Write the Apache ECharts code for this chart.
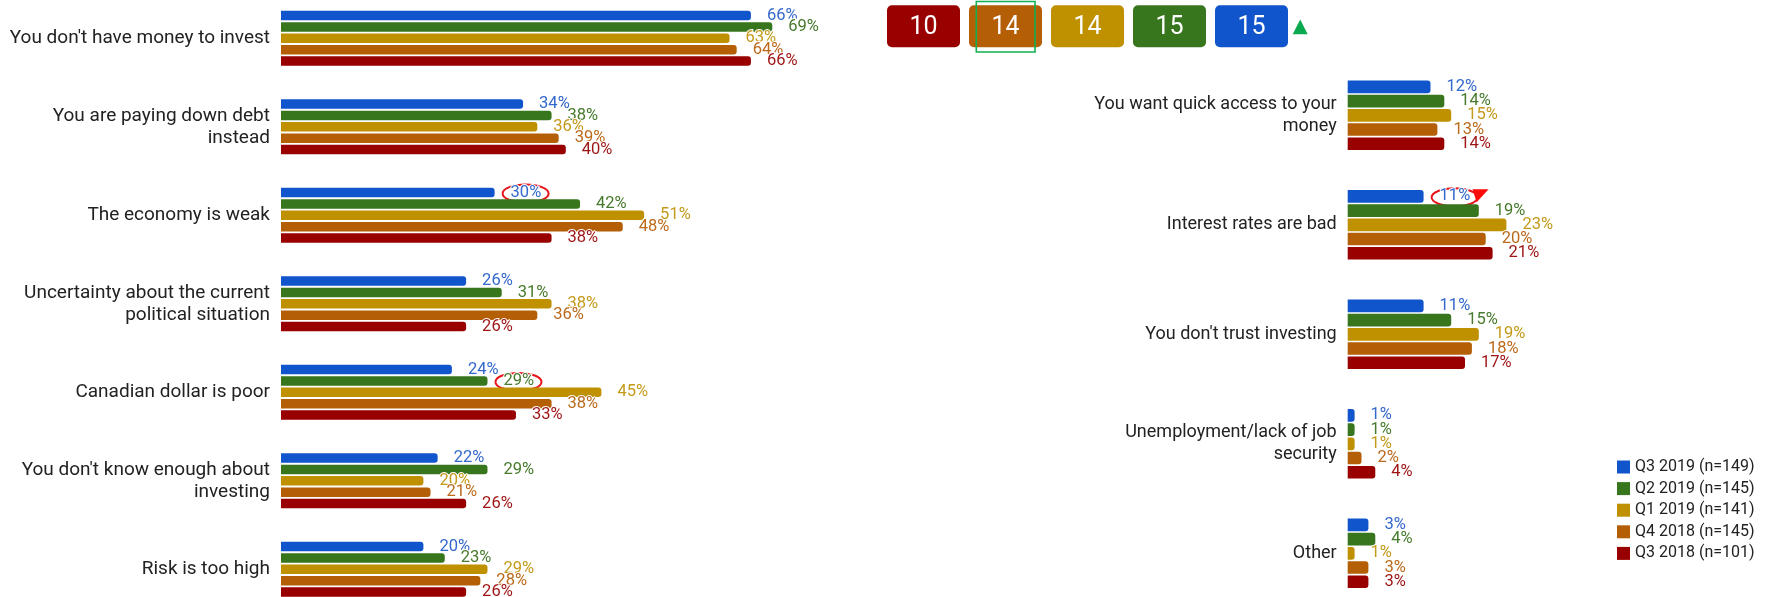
<!DOCTYPE html>
<html>
<head>
<meta charset="utf-8">
<script src="https://cdn.jsdelivr.net/npm/echarts@6/dist/echarts.min.js"></script>
<style>
  html, body { margin: 0; padding: 0; background: #ffffff; }
  #chart { width: 1771px; height: 597px; }
</style>
</head>
<body>
<div id="chart"></div>
<script>
// Survey waves (legend order) and their colours
const seriesNames = ['Q3 2019 (n=149)', 'Q2 2019 (n=145)', 'Q1 2019 (n=141)', 'Q4 2018 (n=145)', 'Q3 2018 (n=101)'];
const seriesColors = ['#1155cc', '#38761d', '#bf9000', '#b45f06', '#990000'];
const labelColors = ['#3368cc', '#477a2c', '#c39a1a', '#bb6a1c', '#9e1414'];

// Reasons, first panel
const leftCategories = [
  "You don't have money to invest",
  'You are paying down debt\ninstead',
  'The economy is weak',
  'Uncertainty about the current\npolitical situation',
  'Canadian dollar is poor',
  "You don't know enough about\ninvesting",
  'Risk is too high'
];
const leftQ3_2019 = [66, 34, 30, 26, 24, 22, 20];
const leftQ2_2019 = [69, 38, 42, 31, 29, 29, 23];
const leftQ1_2019 = [63, 36, 51, 38, 45, 20, 29];
const leftQ4_2018 = [64, 39, 48, 36, 38, 21, 28];
const leftQ3_2018 = [66, 40, 38, 26, 33, 26, 26];

// Reasons, second panel
const rightCategories = [
  'You want quick access to your\nmoney',
  'Interest rates are bad',
  "You don't trust investing",
  'Unemployment/lack of job\nsecurity',
  'Other'
];
const rightQ3_2019 = [12, 11, 11, 1, 3];
const rightQ2_2019 = [14, 19, 15, 1, 4];
const rightQ1_2019 = [15, 23, 19, 1, 1];
const rightQ4_2018 = [13, 20, 18, 2, 3];
const rightQ3_2018 = [14, 21, 17, 4, 3];

// Score badges, oldest wave first
const scoreValues = [10, 14, 14, 15, 15];
const scoreColors = ['#990000', '#b45f06', '#bf9000', '#38761d', '#1155cc'];

const leftValues = [leftQ3_2019, leftQ2_2019, leftQ1_2019, leftQ4_2018, leftQ3_2018];
const rightValues = [rightQ3_2019, rightQ2_2019, rightQ1_2019, rightQ4_2018, rightQ3_2018];

const FONT = 'Roboto';
const LABEL_SIZE = 16.5;
const LABEL_DIST = 16;
const LEFT_BAR = 9.5, LEFT_GAP = 0.2;
const RIGHT_BAR = 12.7, RIGHT_GAP = 0.12;

function barSeries(values, i, gridIdx, barWidth, gap) {
  return {
    type: 'bar',
    name: seriesNames[i],
    xAxisIndex: gridIdx,
    yAxisIndex: gridIdx,
    data: values,
    barWidth: barWidth,
    barGap: (gap * 100) + '%',
    itemStyle: { color: seriesColors[i], borderRadius: [0, 3, 3, 0] },
    label: {
      show: true,
      position: 'right',
      distance: LABEL_DIST,
      formatter: '{c}%',
      color: labelColors[i],
      fontSize: LABEL_SIZE,
      fontFamily: FONT,
      textBorderColor: '#ffffff',
      textBorderWidth: 2
    },
    emphasis: { disabled: true },
    animation: false
  };
}

function categoryAxis(gridIdx, data, fontSize) {
  return {
    gridIndex: gridIdx,
    type: 'category',
    data: data,
    inverse: true,
    boundaryGap: false,
    axisLine: { show: false },
    axisTick: { show: false },
    splitLine: { show: false },
    axisLabel: {
      margin: 11,
      fontSize: fontSize,
      lineHeight: 22,
      color: '#222222',
      fontFamily: FONT,
      align: 'right'
    }
  };
}

const series = [];
leftValues.forEach((v, i) => series.push(barSeries(v, i, 0, LEFT_BAR, LEFT_GAP)));
rightValues.forEach((v, i) => series.push(barSeries(v, i, 1, RIGHT_BAR, RIGHT_GAP)));

const chart = echarts.init(document.getElementById('chart'), null, { renderer: 'canvas' });

chart.setOption({
  backgroundColor: '#ffffff',
  animation: false,
  textStyle: { fontFamily: FONT },
  grid: [
    { left: 281, top: 38.3, width: 712, height: 531 },
    { left: 1347.7, top: 115.3, width: 414, height: 438 }
  ],
  xAxis: [
    { gridIndex: 0, type: 'value', min: 0, max: 100, show: false },
    { gridIndex: 1, type: 'value', min: 0, max: 60, show: false }
  ],
  yAxis: [
    categoryAxis(0, leftCategories, 19),
    categoryAxis(1, rightCategories, 18)
  ],
  legend: {
    data: seriesNames,
    orient: 'vertical',
    left: 1617,
    top: 459,
    padding: 0,
    icon: 'rect',
    itemWidth: 13,
    itemHeight: 13,
    itemGap: 5.6,
    textStyle: { fontSize: 16, lineHeight: 16, color: '#222222', fontFamily: FONT },
    selectedMode: false
  },
  series: series
});

// Annotations: score badges, trend markers and circled labels
const graphics = [];
const badgeX0 = 887, badgeStep = 82, badgeW = 73, badgeH = 42, badgeY = 5.3;
scoreValues.forEach((v, i) => {
  const x = badgeX0 + i * badgeStep;
  graphics.push({
    type: 'rect',
    shape: { x: x, y: badgeY, width: badgeW, height: badgeH, r: 5 },
    style: { fill: scoreColors[i] },
    silent: true
  });
  graphics.push({
    type: 'text',
    x: x + badgeW / 2,
    y: badgeY + badgeH / 2 + 1,
    style: {
      text: String(v),
      fill: '#ffffff',
      font: '25px Roboto',
      align: 'center',
      verticalAlign: 'middle'
    },
    silent: true
  });
});
// highlight frame on the second badge
graphics.push({
  type: 'rect',
  shape: { x: 976.3, y: 1.5, width: 58.7, height: 50.5 },
  style: { fill: 'none', stroke: '#12b050', lineWidth: 1.6 },
  silent: true
});
// upward trend marker after the last badge
graphics.push({
  type: 'polygon',
  shape: { points: [[1300.2, 19.5], [1292.7, 34.3], [1307.7, 34.3]] },
  style: { fill: '#0aa84f' },
  silent: true
});

// Labels circled in red: [grid, series, category index]
const circled = [
  [0, 0, 2],
  [0, 1, 4],
  [1, 0, 1]
];
circled.forEach(([g, s, idx]) => {
  const values = g === 0 ? leftValues : rightValues;
  const bw = g === 0 ? LEFT_BAR : RIGHT_BAR;
  const gap = g === 0 ? LEFT_GAP : RIGHT_GAP;
  const slot = bw * (1 + gap);
  const p = chart.convertToPixel({ gridIndex: g }, [values[s][idx], idx]);
  const cx = p[0] + LABEL_DIST + 15;
  const cy = p[1] + (s - 2) * slot + 1;
  graphics.push({
    type: 'ellipse',
    shape: { cx: cx, cy: cy, rx: 23, ry: 9 },
    style: { fill: 'none', stroke: '#e8141c', lineWidth: 2 },
    silent: true
  });
  if (g === 1) {
    // downward trend marker next to the circled label
    graphics.push({
      type: 'polygon',
      shape: { points: [[cx + 18, cy - 8], [cx + 34, cy - 8], [cx + 22, cy + 5]] },
      style: { fill: '#ff0a0a' },
      silent: true
    });
  }
});

chart.setOption({ graphic: graphics });
</script>
</body>
</html>
